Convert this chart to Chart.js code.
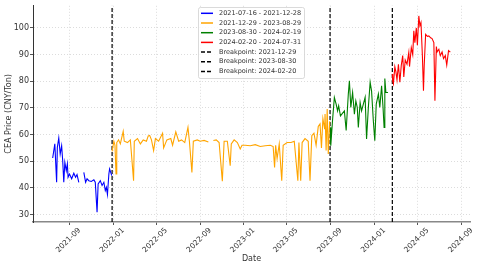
<!DOCTYPE html>
<html>
<head>
<meta charset="utf-8">
<script src="https://cdn.jsdelivr.net/npm/chart.js@4.4.1/dist/chart.umd.min.js"></script>
<style>
  html, body { margin: 0; padding: 0; background: #fff; }
  canvas { display: block; }
</style>
</head>
<body>
<canvas id="chart" width="480" height="268"></canvas>
<script>
// segment 1: 2021-07-16 - 2021-12-28
const blueDates = ["2021-07-16","2021-07-22","2021-07-27","2021-07-29","2021-08-02","2021-08-06","2021-08-10","2021-08-13","2021-08-16","2021-08-19","2021-08-23","2021-08-26","2021-08-28","2021-09-01","2021-09-07","2021-09-13","2021-09-18","2021-09-22","2021-09-27","2021-10-04","2021-10-11","2021-10-16","2021-10-20","2021-10-25","2021-11-01","2021-11-08","2021-11-12","2021-11-17","2021-11-20","2021-11-26","2021-12-01","2021-12-06","2021-12-10","2021-12-13","2021-12-16","2021-12-20","2021-12-22","2021-12-28"];
const blueValues = [51.2,56.5,42.1,55.2,58.7,52.7,55.8,50.2,42.1,49.6,46.5,49,44,45.2,43.4,45.5,44,45,42.1,null,45.8,42.1,43.4,42.7,42.4,43,42.1,30.9,41.5,42.7,40.9,42.1,39,40.2,37.5,45.2,47.1,44.6];

// segment 2: 2021-12-29 - 2023-08-29
const orangeDates = ["2021-12-29","2022-01-03","2022-01-06","2022-01-09","2022-01-11","2022-01-16","2022-01-21","2022-01-29","2022-02-01","2022-02-10","2022-02-18","2022-02-27","2022-03-01","2022-03-10","2022-03-18","2022-03-26","2022-04-04","2022-04-09","2022-04-13","2022-04-18","2022-04-24","2022-04-29","2022-05-08","2022-05-19","2022-05-22","2022-05-31","2022-06-11","2022-06-16","2022-06-25","2022-07-03","2022-07-11","2022-07-20","2022-07-29","2022-08-02","2022-08-09","2022-08-13","2022-08-24","2022-09-01","2022-09-12","2022-09-24","2022-10-03","2022-10-08","2022-10-16","2022-10-24","2022-11-02","2022-11-07","2022-11-16","2022-11-24","2022-11-27","2022-12-05","2022-12-14","2022-12-22","2022-12-27","2023-01-05","2023-01-19","2023-02-02","2023-02-16","2023-03-02","2023-03-16","2023-03-24","2023-03-28","2023-03-31","2023-04-04","2023-04-10","2023-04-17","2023-04-21","2023-05-02","2023-05-13","2023-05-22","2023-06-01","2023-06-04","2023-06-09","2023-06-13","2023-06-21","2023-06-30","2023-07-05","2023-07-10","2023-07-16","2023-07-22","2023-07-28","2023-08-02","2023-08-06","2023-08-10","2023-08-15","2023-08-16","2023-08-19","2023-08-22","2023-08-25","2023-08-29"];
const orangeValues = [53.7,57.5,56,45.2,57,58,56.5,61.2,57.5,57,58,42.7,57.5,58.5,56.5,58,57.5,59.5,59.7,58,54,58.5,57.5,60.5,55,58,58.5,56,61,57.5,58,57,62.7,57.5,45.8,57.5,58,57.5,57.8,57.2,null,57.8,58,57,42.5,57.5,57.5,48.3,56.5,58,57,54.6,56,56,55.8,56.2,55.5,55.8,56,55.5,47.7,56,51,56.5,42.7,56,57,57,57.5,42.7,57,42.7,57,58.5,57.5,42.7,59.6,60.5,56,63,64,55,66,62,67.7,54,69.6,52.7,65];

// segment 3: 2023-08-30 - 2024-02-19
const greenDates = ["2023-08-30","2023-09-01","2023-09-06","2023-09-11","2023-09-16","2023-09-20","2023-09-23","2023-09-28","2023-10-09","2023-10-14","2023-10-20","2023-10-23","2023-10-27","2023-11-01","2023-11-06","2023-11-10","2023-11-14","2023-11-17","2023-11-22","2023-11-26","2023-12-01","2023-12-06","2023-12-10","2023-12-15","2023-12-20","2023-12-24","2023-12-29","2024-01-02","2024-01-06","2024-01-12","2024-01-16","2024-01-21","2024-01-25","2024-01-28","2024-01-30","2024-02-02","2024-02-08"];
const greenValues = [62.7,55.8,65.5,73.9,71.4,68.9,70.8,67,68.9,61.5,75.2,80.2,70.2,75.8,67.6,72.6,70.2,62.7,72,68.9,71.4,74,58.3,70.2,79.6,76.3,65,57.7,71.4,75.2,70.2,78.3,70.2,62.7,81,75.8,75.8];

// segment 4: 2024-02-20 - 2024-07-31
const redDates = ["2024-02-20","2024-02-21","2024-02-23","2024-02-27","2024-03-01","2024-03-04","2024-03-08","2024-03-12","2024-03-16","2024-03-20","2024-03-23","2024-03-27","2024-04-01","2024-04-06","2024-04-08","2024-04-13","2024-04-17","2024-04-20","2024-04-23","2024-04-27","2024-04-30","2024-05-04","2024-05-07","2024-05-10","2024-05-14","2024-05-17","2024-05-19","2024-05-23","2024-05-28","2024-06-01","2024-06-06","2024-06-10","2024-06-15","2024-06-18","2024-06-22","2024-06-24","2024-06-29","2024-07-03","2024-07-08","2024-07-12","2024-07-17","2024-07-21","2024-07-26","2024-07-31"];
const redValues = [82.7,80,79,85.4,83.5,80.5,86.4,79.6,86,89.6,81.6,88,86.4,90.8,85.5,92.6,90,98.9,94.5,100,93.5,104.5,100.8,102,89.6,76.4,85.7,97.6,96.8,97,96.3,96,94.5,72.7,93,91,92,89.6,91,88.5,89.6,86.1,91.5,90.9];

const segmentLabels = ["2021-07-16 - 2021-12-28", "2021-12-29 - 2023-08-29", "2023-08-30 - 2024-02-19", "2024-02-20 - 2024-07-31"];
const breakpoints = ["2021-12-29", "2023-08-30", "2024-02-20"];

const xTickLabels = ["2021-09","2022-01","2022-05","2022-09","2023-01","2023-05","2023-09","2024-01","2024-05","2024-09"];
const yTickLabels = [30, 40, 50, 60, 70, 80, 90, 100];

const X_MIN = Date.parse("2021-05-22");
const X_MAX = Date.parse("2024-09-24");
const Y_MIN = 27.2;
const Y_MAX = 108.3;

function toPoints(dates, values) {
    return dates.map((d, i) => ({ x: Date.parse(d), y: values[i] }));
}

function fmtMonth(ms) {
    const d = new Date(ms);
    return d.getUTCFullYear() + "-" + String(d.getUTCMonth() + 1).padStart(2, "0");
}

// legend drawn inside the plot like the matplotlib one
const legendBox = {
    id: "legendBox",
    afterDraw(chart) {
        const ctx = chart.ctx;
        const items = chart.data.datasets;
        const x0 = 198, y0 = 7, rowH = 9.7;
        ctx.save();
        ctx.fillStyle = "rgba(255,255,255,0.85)";
        ctx.strokeStyle = "#d0d0d0";
        ctx.lineWidth = 0.8;
        ctx.beginPath();
        ctx.roundRect(x0 + 0.5, y0 + 0.5, 106, 71, 2);
        ctx.fill();
        ctx.stroke();
        ctx.font = '6.5px "DejaVu Sans"';
        ctx.textBaseline = "middle";
        items.forEach((ds, i) => {
            const cy = y0 + 6.3 + i * rowH;
            ctx.strokeStyle = ds.borderColor;
            ctx.lineWidth = 1.5;
            ctx.setLineDash(ds.borderDash || []);
            ctx.beginPath();
            ctx.moveTo(x0 + 3, cy);
            ctx.lineTo(x0 + 15, cy);
            ctx.stroke();
            ctx.setLineDash([]);
            ctx.fillStyle = "#333";
            ctx.fillText(ds.label, x0 + 21, cy);
        });
        ctx.restore();
    }
};

function renderChart() {
    const colors = ["#0000ff", "#ffa500", "#008000", "#ff0000"];
    const segments = [
        toPoints(blueDates, blueValues),
        toPoints(orangeDates, orangeValues),
        toPoints(greenDates, greenValues),
        toPoints(redDates, redValues)
    ];

    const datasets = segments.map((pts, i) => ({
        label: segmentLabels[i],
        data: pts,
        borderColor: colors[i],
        borderWidth: 1.1,
        pointRadius: 0,
        tension: 0,
        spanGaps: false
    }));

    breakpoints.forEach(b => {
        datasets.push({
            label: "Breakpoint: " + b,
            data: [{ x: Date.parse(b), y: Y_MIN }, { x: Date.parse(b), y: Y_MAX }],
            borderColor: "#000",
            borderWidth: 1.2,
            borderDash: [4, 2],
            pointRadius: 0
        });
    });

    new Chart(document.getElementById("chart"), {
        type: "line",
        data: { datasets: datasets },
        options: {
            responsive: false,
            animation: false,
            devicePixelRatio: 1,
            layout: { padding: { top: 5, right: 10, left: 0, bottom: 0 } },
            scales: {
                x: {
                    type: "linear",
                    min: X_MIN,
                    max: X_MAX,
                    afterBuildTicks: axis => {
                        axis.ticks = xTickLabels.map(s => ({ value: Date.parse(s + "-01") }));
                    },
                    afterFit: scale => { scale.height = 46; },
                    ticks: {
                        autoSkip: false,
                        maxRotation: 45,
                        minRotation: 45,
                        labelOffset: 10,
                        padding: 1,
                        color: "#333",
                        font: { family: "DejaVu Sans", size: 7.5 },
                        callback: v => fmtMonth(v)
                    },
                    grid: { color: "#dcdcdc", tickColor: "#555", tickLength: 3 },
                    border: { color: "#888", width: 1.5, dash: [1, 2] },
                    title: {
                        display: true,
                        text: "Date",
                        color: "#333",
                        font: { family: "DejaVu Sans", size: 8 },
                        padding: { top: 0, bottom: 4 }
                    }
                },
                y: {
                    min: Y_MIN,
                    max: Y_MAX,
                    afterBuildTicks: axis => {
                        axis.ticks = yTickLabels.map(v => ({ value: v }));
                    },
                    afterFit: scale => { scale.width = 33; },
                    ticks: {
                        padding: 1,
                        color: "#333",
                        font: { family: "DejaVu Sans", size: 8 }
                    },
                    grid: { color: "#dcdcdc", tickColor: "#555", tickLength: 3 },
                    border: { color: "#333", width: 1, dash: [1, 2] },
                    title: {
                        display: true,
                        text: "CEA Price (CNY/Ton)",
                        color: "#333",
                        font: { family: "DejaVu Sans", size: 8 },
                        padding: { top: 4, bottom: 0 }
                    }
                }
            },
            plugins: {
                legend: { display: false },
                tooltip: { enabled: false }
            }
        },
        plugins: [legendBox]
    });
}

renderChart();
</script>
</body>
</html>
